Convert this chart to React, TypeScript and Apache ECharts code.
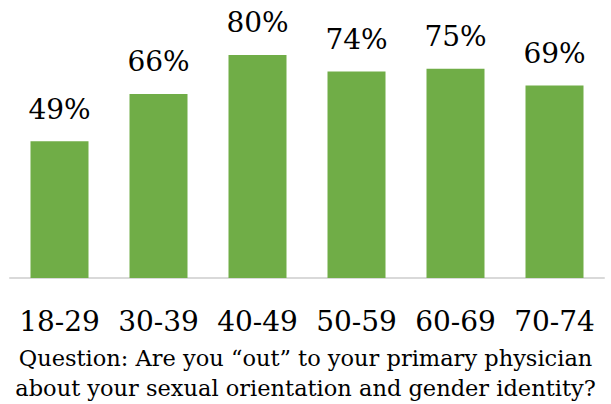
import React, { useEffect, useRef } from "react";
import * as echarts from "echarts";

const categories = ["18-29", "30-39", "40-49", "50-59", "60-69", "70-74"];
const values = [49, 66, 80, 74, 75, 69];
const questionLines = [
  "Question: Are you \u201cout\u201d to your primary physician",
  "about your sexual orientation and gender identity?",
];

const FONT = "DejaVu Serif";

export default function App() {
  const ref = useRef<HTMLDivElement>(null);
  useEffect(() => {
    if (!ref.current) return;
    const chart = echarts.init(ref.current, null, { renderer: "svg" });
    chart.setOption({
      animation: false,
      grid: { left: 10, right: 7, top: 27, bottom: 126, containLabel: false },
      xAxis: {
        type: "category",
        data: categories,
        axisLine: { lineStyle: { color: "#d9d9d9", width: 2 } },
        axisTick: { show: false },
        axisLabel: { color: "#000", fontFamily: FONT, fontSize: 28, margin: 29, interval: 0 },
      },
      yAxis: {
        type: "value",
        min: 0,
        max: 90,
        show: false,
        splitLine: { show: false },
      },
      series: [
        {
          type: "bar",
          data: values,
          barWidth: 58,
          itemStyle: { color: "#70AD47" },
          label: {
            show: true,
            position: "top",
            distance: 18,
            formatter: "{c}%",
            color: "#000",
            fontFamily: FONT,
            fontSize: 28,
          },
        },
      ],
      graphic: questionLines.map((t, i) => ({
        type: "text",
        left: "center",
        top: 346 + i * 30.5,
        style: { text: t, fill: "#000", font: `22.5px '${FONT}'` },
      })),
    });
    return () => chart.dispose();
  }, []);
  return <div ref={ref} style={{ width: 611, height: 404, position: "absolute", left: 0, top: 0 }} />;
}
